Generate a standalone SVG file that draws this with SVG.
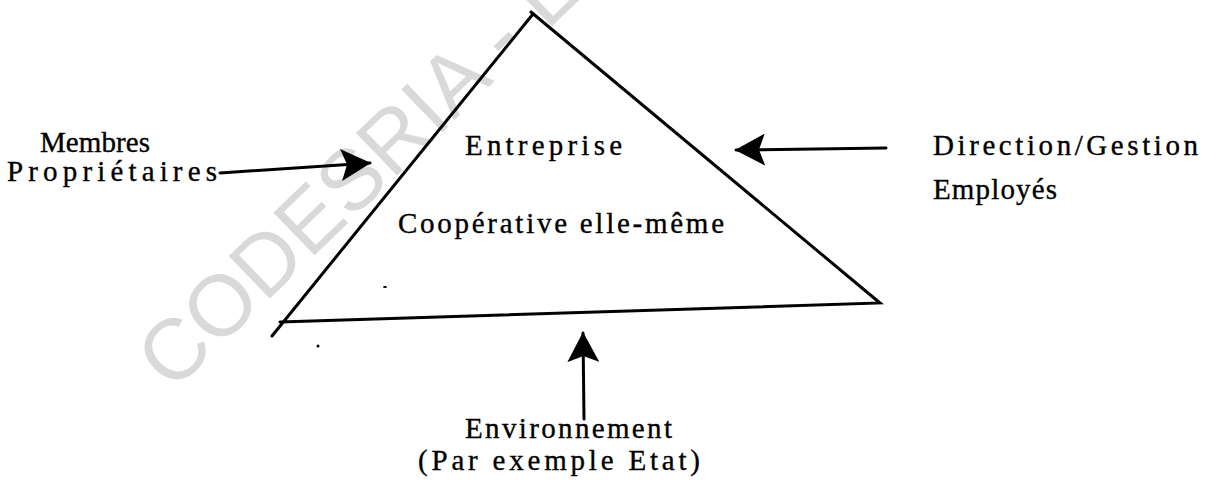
<svg xmlns="http://www.w3.org/2000/svg" width="1212" height="481" viewBox="0 0 1212 481">
  <style>
    .lbl { font-family: "Liberation Serif", "Times New Roman", serif; font-size: 29px; fill: #000; stroke: #000; stroke-width: 0.35; }
    .edge { stroke: #000; stroke-width: 3; fill: none; stroke-linecap: round; }
    .wm { font-family: "Liberation Sans", Arial, sans-serif; font-size: 86px; fill: #d9d9d9; }
  </style>
  <defs>
    <marker id="head" viewBox="0 0 30 32" refX="29" refY="16" markerWidth="30" markerHeight="32" markerUnits="userSpaceOnUse" orient="auto">
      <path d="M0,0 L30,16 L0,32 L6,16 Z" fill="#000"/>
    </marker>
  </defs>
  <rect width="1212" height="481" fill="#fff"/>

  <text class="wm" x="172" y="393" transform="rotate(-44 172 393)">CODESRIA - L</text>

  <g id="entreprise">
    <path class="edge" d="M272,336 L533,14 M531,12 L880,303 L280,322"/>
    <text class="lbl" x="465" y="155" textLength="157" lengthAdjust="spacing">Entreprise</text>
    <text class="lbl" x="398" y="233" textLength="326" lengthAdjust="spacing">Coopérative elle-même</text>
  </g>

  <g id="membres">
    <text class="lbl" x="40" y="152" textLength="110" lengthAdjust="spacing">Membres</text>
    <text class="lbl" x="7" y="181" textLength="210" lengthAdjust="spacing">Propriétaires</text>
  </g>

  <g id="direction">
    <text class="lbl" x="933" y="155" textLength="265" lengthAdjust="spacing">Direction/Gestion</text>
    <text class="lbl" x="933" y="199" textLength="124" lengthAdjust="spacing">Employés</text>
  </g>

  <g id="environnement">
    <text class="lbl" x="465" y="438" textLength="207" lengthAdjust="spacing">Environnement</text>
    <text class="lbl" x="418" y="470" textLength="282" lengthAdjust="spacing">(Par exemple Etat)</text>
  </g>

  <g id="connectors">
    <line class="edge" x1="584" y1="419" x2="583" y2="333" marker-end="url(#head)"/>
    <line class="edge" x1="220" y1="173" x2="370" y2="163" marker-end="url(#head)"/>
    <line class="edge" x1="886" y1="148" x2="736" y2="150" marker-end="url(#head)"/>
  </g>

  <g id="specks" fill="#000">
    <ellipse cx="385" cy="287" rx="2" ry="1"/>
    <circle cx="318" cy="346" r="1.5"/>
  </g>
</svg>
